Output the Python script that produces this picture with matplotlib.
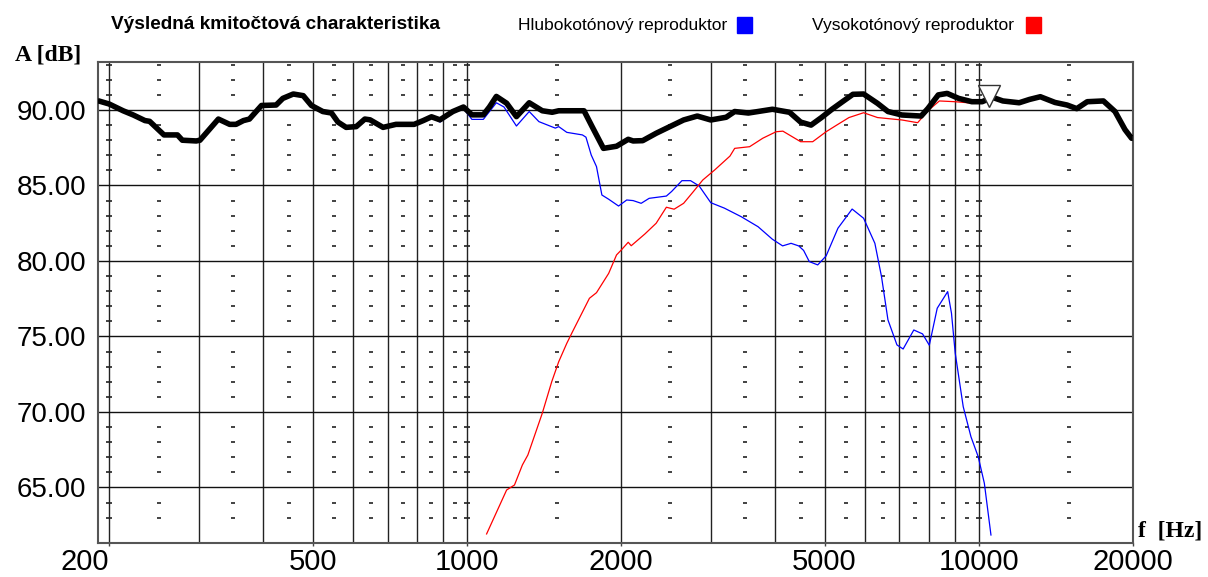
import matplotlib
matplotlib.use("Agg")
import matplotlib.pyplot as plt
from matplotlib.patches import Rectangle
from matplotlib.ticker import NullLocator

# Values: frequency [Hz], level [dB]

# resulting response (thick black)
total_f = [190, 200, 213, 223, 235, 240, 256, 272, 278, 296, 301, 327, 344, 354,
           366, 376, 397, 424, 437, 458, 479, 497, 523, 544, 560, 581, 608, 632,
           647, 686, 727, 789, 822, 853, 886, 939, 985, 1023, 1077, 1107, 1142,
           1196, 1250, 1324, 1404, 1468, 1512, 1694, 1757, 1849, 1961, 2067,
           2113, 2206, 2344, 2493, 2652, 2820, 2997, 3211, 3337, 3549, 3954,
           4271, 4490, 4705, 4930, 5170, 5420, 5680, 5960, 6345, 6650, 7080,
           7720, 7960, 8340, 8680, 9140, 9700, 10160, 10640, 11150, 12000,
           12570, 13200, 14100, 14890, 15550, 16300, 17530, 18470, 19320,
           19900, 20000]
total_db = [90.62, 90.4, 89.95, 89.67, 89.3, 89.25, 88.35, 88.35, 88.0, 87.95,
            88.0, 89.4, 89.05, 89.05, 89.3, 89.4, 90.3, 90.33, 90.77, 91.06,
            90.95, 90.3, 89.9, 89.8, 89.2, 88.85, 88.9, 89.4, 89.35, 88.85,
            89.05, 89.05, 89.3, 89.55, 89.35, 89.9, 90.2, 89.68, 89.68, 90.2,
            90.9, 90.45, 89.56, 90.48, 89.95, 89.85, 89.95, 89.95, 88.9, 87.46,
            87.6, 88.06, 87.95, 87.97, 88.46, 88.9, 89.34, 89.6, 89.34, 89.52,
            89.9, 89.8, 90.05, 89.85, 89.2, 89.0, 89.5, 90.05, 90.55, 91.04,
            91.06, 90.44, 89.9, 89.67, 89.6, 90.1, 91.0, 91.1, 90.77, 90.55,
            90.55, 90.84, 90.6, 90.48, 90.7, 90.88, 90.5, 90.33, 90.09, 90.55,
            90.6, 89.9, 88.7, 88.13, 88.13]

# woofer (blue) - below 860 Hz it lies under the black curve
woofer_f_hi = [886, 939, 985, 1023, 1077, 1142, 1182, 1250, 1324, 1383, 1489,
               1512, 1568, 1682, 1709, 1750, 1792, 1836, 1893, 1979, 2053, 2113,
               2191, 2271, 2454, 2512, 2632, 2736, 2844, 2997, 3186, 3438, 3707,
               3954, 4140, 4300, 4450, 4550, 4668, 4848, 5034, 5310, 5660, 5960,
               6270, 6460, 6650, 6925, 7120, 7470, 7770, 8010, 8300, 8700, 8850,
               9000, 9330, 9660, 9980, 10260, 10570]
woofer_db_hi = [89.2, 89.8, 90.1, 89.38, 89.38, 90.48, 90.2, 88.94, 89.9, 89.23,
                88.8, 88.9, 88.52, 88.35, 88.2, 87.02, 86.25, 84.37, 84.09,
                83.64, 84.04, 84.0, 83.82, 84.15, 84.3, 84.6, 85.32, 85.32,
                84.97, 83.86, 83.5, 82.93, 82.27, 81.44, 81.0, 81.17, 81.0, 80.7,
                79.96, 79.74, 80.33, 82.17, 83.44, 82.83, 81.17, 78.96, 76.1,
                74.44, 74.17, 75.43, 75.17, 74.42, 76.87, 77.97, 76.54, 73.9,
                70.35, 68.36, 67.04, 65.28, 61.85]

# tweeter (red)
tweeter_f = [1093, 1196, 1239, 1284, 1316, 1404, 1465, 1512, 1568, 1609, 1736,
             1792, 1893, 1961, 2000, 2067, 2095, 2228, 2344, 2454, 2541, 2652,
             2770, 2890, 3050, 3267, 3337, 3569, 3786, 4020, 4145, 4490, 4740,
             5034, 5280, 5580, 5960, 6345, 7080, 7600, 7990, 8380, 8990, 9530,
             10160]
tweeter_db = [61.92, 64.83, 65.16, 66.49, 67.15, 69.91, 72.0, 73.33, 74.55,
              75.32, 77.53, 77.9, 79.18, 80.4, 80.7, 81.24, 81.01, 81.79, 82.5,
              83.56, 83.43, 83.82, 84.59, 85.36, 86.03, 86.95, 87.46, 87.57,
              88.13, 88.56, 88.6, 87.9, 87.9, 88.56, 89.0, 89.5, 89.82, 89.5,
              89.34, 89.16, 90.0, 90.6, 90.55, 90.48, 90.55]

marker_f = 10500
marker_db = 90.93

xticks = [200, 500, 1000, 2000, 5000, 10000, 20000]
yticks = [65, 70, 75, 80, 85, 90]
vlines = [200, 300, 400, 500, 600, 700, 800, 900, 1000,
          2000, 3000, 4000, 5000, 6000, 7000, 8000, 9000, 10000]
half_f = [250, 350, 450, 550, 650, 750, 850, 950, 1500, 2500, 3500, 4500,
          5500, 6500, 7500, 8500, 9500, 15000]
cross_f = [200, 1000, 10000]
dash_db = [d for d in range(63, 94) if d % 5]

title = "Výsledná kmitočtová charakteristika"
woofer_name = "Hlubokotónový reproduktor"
tweeter_name = "Vysokotónový reproduktor"

W, H = 1208, 577
fig = plt.figure(figsize=(W / 100, H / 100), dpi=100)
ax = fig.add_axes([97.7 / W, 1 - 543.3 / H, 1035 / W, 481.6 / H])
ax.set_xscale("log")
ax.set_xlim(190, 20000)
ax.set_ylim(61.3, 93.2)

# grid
for f in vlines:
    ax.axvline(f, color="#222222", lw=1, zorder=1)
for d in yticks:
    ax.axhline(d, color="#111111", lw=1, zorder=1)
hx = [f for f in half_f for d in dash_db]
hy = [d for f in half_f for d in dash_db]
ax.plot(hx, hy, ls="none", marker="_", ms=3, mew=1.2, color="#222222", zorder=1)
cx = [f for f in cross_f for d in dash_db]
cy = [d for f in cross_f for d in dash_db]
ax.plot(cx, cy, ls="none", marker="_", ms=4.5, mew=1.2, color="#222222", zorder=1)

# curves
woofer_f = [f for f in total_f if f < 860] + woofer_f_hi
woofer_db = [d for f, d in zip(total_f, total_db) if f < 860] + woofer_db_hi
ax.plot(woofer_f, woofer_db, color="#0000ff", lw=0.9, zorder=3)
ax.plot(tweeter_f, tweeter_db, color="#ff0000", lw=0.9, zorder=3)
ax.plot(total_f, total_db, color="black", lw=4.0, zorder=4,
        solid_joinstyle="round", solid_capstyle="butt")
ax.plot([marker_f], [marker_db], marker="v", ms=16, mfc="white",
        mec="#333333", mew=1, zorder=5)

# ticks
ax.set_xticks(xticks)
ax.set_xticklabels([str(x) for x in xticks], fontsize=21, family="Liberation Sans")
ax.get_xticklabels()[0].set_ha("right")
ax.xaxis.set_minor_locator(NullLocator())
ax.set_yticks(yticks)
ax.set_yticklabels(["%.2f" % y for y in yticks], fontsize=20, family="Liberation Sans")
ax.tick_params(axis="x", length=2.2, width=1, color="#444444", pad=1)
ax.tick_params(axis="y", length=0, pad=8.4)
for s in ax.spines.values():
    s.set_color("#555555")
    s.set_linewidth(1.5)

# header texts
fig.text(111 / W, 1 - 29 / H, title, fontsize=13.7, fontweight="bold",
         family="Liberation Sans", va="baseline")
fig.text(518 / W, 1 - 30 / H, woofer_name, fontsize=12.5,
         family="Liberation Sans", va="baseline")
fig.patches.append(Rectangle((737 / W, 1 - 33 / H), 15 / W, 16 / H,
                             transform=fig.transFigure, color="#0000ff"))
fig.text(812 / W, 1 - 30 / H, tweeter_name, fontsize=12.5,
         family="Liberation Sans", va="baseline")
fig.patches.append(Rectangle((1026 / W, 1 - 33 / H), 15 / W, 16 / H,
                             transform=fig.transFigure, color="#ff0000"))
fig.text(15 / W, 1 - 60 / H, "A [dB]", fontsize=17, fontweight="bold",
         family="Liberation Serif", va="baseline")
fig.text(1138 / W, 1 - 537 / H, "f  [Hz]", fontsize=17, fontweight="bold",
         family="Liberation Serif", va="baseline")

fig.savefig("out.png", dpi=100)
